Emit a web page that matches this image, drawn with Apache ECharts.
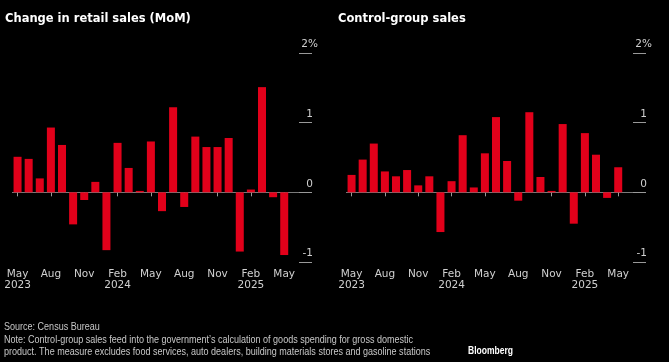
<!DOCTYPE html>
<html>
<head>
<meta charset="utf-8">
<script src="https://cdn.jsdelivr.net/npm/echarts@6/dist/echarts.min.js"></script>
<style>
html,body{margin:0;padding:0;background:#000;}
#c{width:669px;height:362px;}
</style>
</head>
<body>
<div id="c"></div>
<script>
var months = ['2023-05','2023-06','2023-07','2023-08','2023-09','2023-10','2023-11','2023-12',
  '2024-01','2024-02','2024-03','2024-04','2024-05','2024-06','2024-07','2024-08','2024-09','2024-10','2024-11','2024-12',
  '2025-01','2025-02','2025-03','2025-04','2025-05'];
var retailSales = [0.51,0.48,0.20,0.93,0.68,-0.46,-0.11,0.15,-0.83,0.71,0.35,0.02,0.73,-0.27,1.22,-0.21,0.80,0.65,0.65,0.78,-0.85,0.04,1.51,-0.07,-0.90];
var controlGroup = [0.25,0.47,0.70,0.30,0.23,0.32,0.10,0.23,-0.57,0.16,0.82,0.07,0.56,1.08,0.45,-0.12,1.15,0.22,0.02,0.98,-0.45,0.85,0.54,-0.08,0.36];
var yTicks = [-1,0,1,2];
var titles = ['Change in retail sales (MoM)','Control-group sales'];
var footerLines = ['Source: Census Bureau',
  'Note: Control-group sales feed into the government\u2019s calculation of goods spending for gross domestic',
  'product. The measure excludes food services, auto dealers, building materials stores and gasoline stations'];
var brand = 'Bloomberg';

var monNames = ['Jan','Feb','Mar','Apr','May','Jun','Jul','Aug','Sep','Oct','Nov','Dec'];
var RED = '#e2001a';
var LBL = '#d0d0d0';

function textWidth(str, font) {
  var cv = document.createElement('canvas').getContext('2d');
  cv.font = font;
  return cv.measureText(str).width;
}

function fmtX(v, idx) {
  if (!v) return '';
  var p = v.split('-');
  var m = monNames[parseInt(p[1],10)-1];
  if (idx === 0 || p[1] === '02') return m + '\n' + p[0];
  return m;
}

function xAxisFor(gi) {
  return {
    type: 'category', gridIndex: gi, data: months, max: months.length + 1,
    boundaryGap: true,
    axisLine: {show: false},
    axisTick: {show: true, interval: 2, alignWithLabel: true, length: 4, lineStyle: {color: '#999'}},
    axisLabel: {interval: 2, formatter: fmtX, color: LBL, fontFamily: 'DejaVu Sans', fontSize: 10.5, lineHeight: 11, margin: 7},
    splitLine: {show: false}
  };
}
function yAxisFor(gi) {
  return {
    type: 'value', gridIndex: gi, position: 'right', min: yTicks[0], max: yTicks[yTicks.length-1], interval: 1,
    axisLine: {show: false},
    axisTick: {show: true, inside: true, length: 13, lineStyle: {color: '#999'}},
    axisLabel: {
      inside: true, margin: -6, verticalAlign: 'bottom', padding: [0,0,3,0],
      color: LBL, fontFamily: 'DejaVu Sans', fontSize: 10.5,
      formatter: function (v) { return v === 2 ? '{n|2%}' : '{m|' + v + '}'; },
      rich: {n: {color: LBL, fontFamily: 'DejaVu Sans', fontSize: 10.5}, m: {color: LBL, fontFamily: 'DejaVu Sans', fontSize: 10.5, padding: [0,5,0,0]}}
    },
    splitLine: {show: true, lineStyle: {color: ['transparent','#7a7a7a','transparent','transparent'], width: 1}}
  };
}

var footFont = '10.5px "Liberation Sans"';
var footScale = 409 / textWidth(footerLines[1], footFont);
var brandFont = 'bold 10.5px "Liberation Sans"';
var brandScale = 45 / textWidth(brand, brandFont);

var chart = echarts.init(document.getElementById('c'), null, {renderer: 'canvas'});
chart.setOption({
  backgroundColor: '#000',
  animation: false,
  title: [
    {text: titles[0], left: 0, top: 8, textStyle: {color: '#fff', fontFamily: 'DejaVu Sans', fontWeight: 'bold', fontSize: 11.5}},
    {text: titles[1], left: 333, top: 8, textStyle: {color: '#fff', fontFamily: 'DejaVu Sans', fontWeight: 'bold', fontSize: 11.5}}
  ],
  graphic: [
    {type: 'text', x: 4, y: 321, scaleX: footScale, silent: true,
     style: {text: footerLines.join('\n'), font: footFont, fill: '#c8c8c8', lineHeight: 12.5, verticalAlign: 'top'}},
    {type: 'text', x: 468, y: 346, scaleX: brandScale, silent: true,
     style: {text: brand, font: brandFont, fill: '#fff', verticalAlign: 'top'}}
  ],
  grid: [
    {left: 12, top: 53, width: 300, height: 209},
    {left: 346, top: 53, width: 300, height: 209}
  ],
  xAxis: [xAxisFor(0), xAxisFor(1)],
  yAxis: [yAxisFor(0), yAxisFor(1)],
  series: [
    {type: 'bar', xAxisIndex: 0, yAxisIndex: 0, data: retailSales, barWidth: 8, itemStyle: {color: RED}},
    {type: 'bar', xAxisIndex: 1, yAxisIndex: 1, data: controlGroup, barWidth: 8, itemStyle: {color: RED}}
  ]
});
</script>
</body>
</html>
